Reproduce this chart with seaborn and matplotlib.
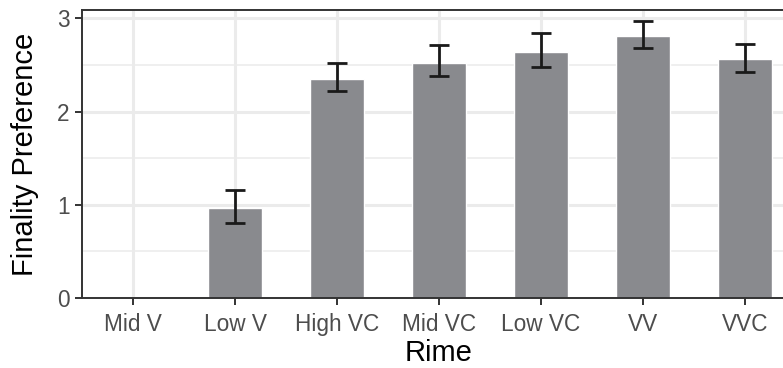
import matplotlib
matplotlib.use("Agg")
import matplotlib.pyplot as plt
from matplotlib.ticker import MultipleLocator
import numpy as np
import pandas as pd
import seaborn as sns

# values
rimes = ["Mid V", "Low V", "High VC", "Mid VC", "Low VC", "VV", "VVC"]
pref_mean = [0.0, 0.97, 2.35, 2.52, 2.64, 2.81, 2.56]
ci_low = [np.nan, 0.81, 2.22, 2.38, 2.48, 2.68, 2.43]
ci_high = [np.nan, 1.16, 2.52, 2.71, 2.84, 2.97, 2.73]

df = pd.DataFrame({"Rime": rimes, "pref": pref_mean, "lo": ci_low, "hi": ci_high})
df["Rime"] = pd.Categorical(df["Rime"], categories=rimes, ordered=True)

sns.set_theme(style="white")
plt.rcParams["font.family"] = ["Liberation Sans", "DejaVu Sans"]

fig = plt.figure(figsize=(7.83, 3.68), dpi=100)
# panel is cut off on the right in the reference, so the axes run past the figure edge
ax = fig.add_axes([82 / 783, 70 / 368, 714 / 783, 288 / 368])

sns.barplot(data=df, x="Rime", y="pref", color="#898a8e", saturation=1,
            width=0.52, errorbar=None, ax=ax, zorder=2)

pos = np.arange(len(rimes))
has_ci = ~df["lo"].isna()
ax.errorbar(pos[has_ci], df.loc[has_ci, "pref"],
            yerr=[df.loc[has_ci, "pref"] - df.loc[has_ci, "lo"],
                  df.loc[has_ci, "hi"] - df.loc[has_ci, "pref"]],
            fmt="none", ecolor="#1a1a1a", elinewidth=2.0, capsize=7.5,
            capthick=2.0, zorder=3)

ax.set_xlim(-0.5, 6.5)
ax.set_ylim(0, 3.09)
ax.yaxis.set_major_locator(MultipleLocator(1))
ax.yaxis.set_minor_locator(MultipleLocator(0.5))

ax.grid(which="major", color="#ebebeb", linewidth=2.2, zorder=0)
ax.grid(which="minor", axis="y", color="#ebebeb", linewidth=1.1, zorder=0)
ax.set_axisbelow(True)

for s in ax.spines.values():
    s.set_color("#333333")
    s.set_linewidth(1.4)

ax.tick_params(axis="both", which="major", length=5, width=1.4, color="#333333",
               labelsize=16.3, labelcolor="#4d4d4d", pad=4,
               bottom=True, left=True)
ax.tick_params(axis="x", which="major", pad=6)
ax.tick_params(axis="y", which="minor", length=0)

ax.set_xlabel("Rime", fontsize=21, color="black", labelpad=2)
ax.set_ylabel("Finality Preference", fontsize=21, color="black", labelpad=13)

fig.savefig("out.png", dpi=100)
